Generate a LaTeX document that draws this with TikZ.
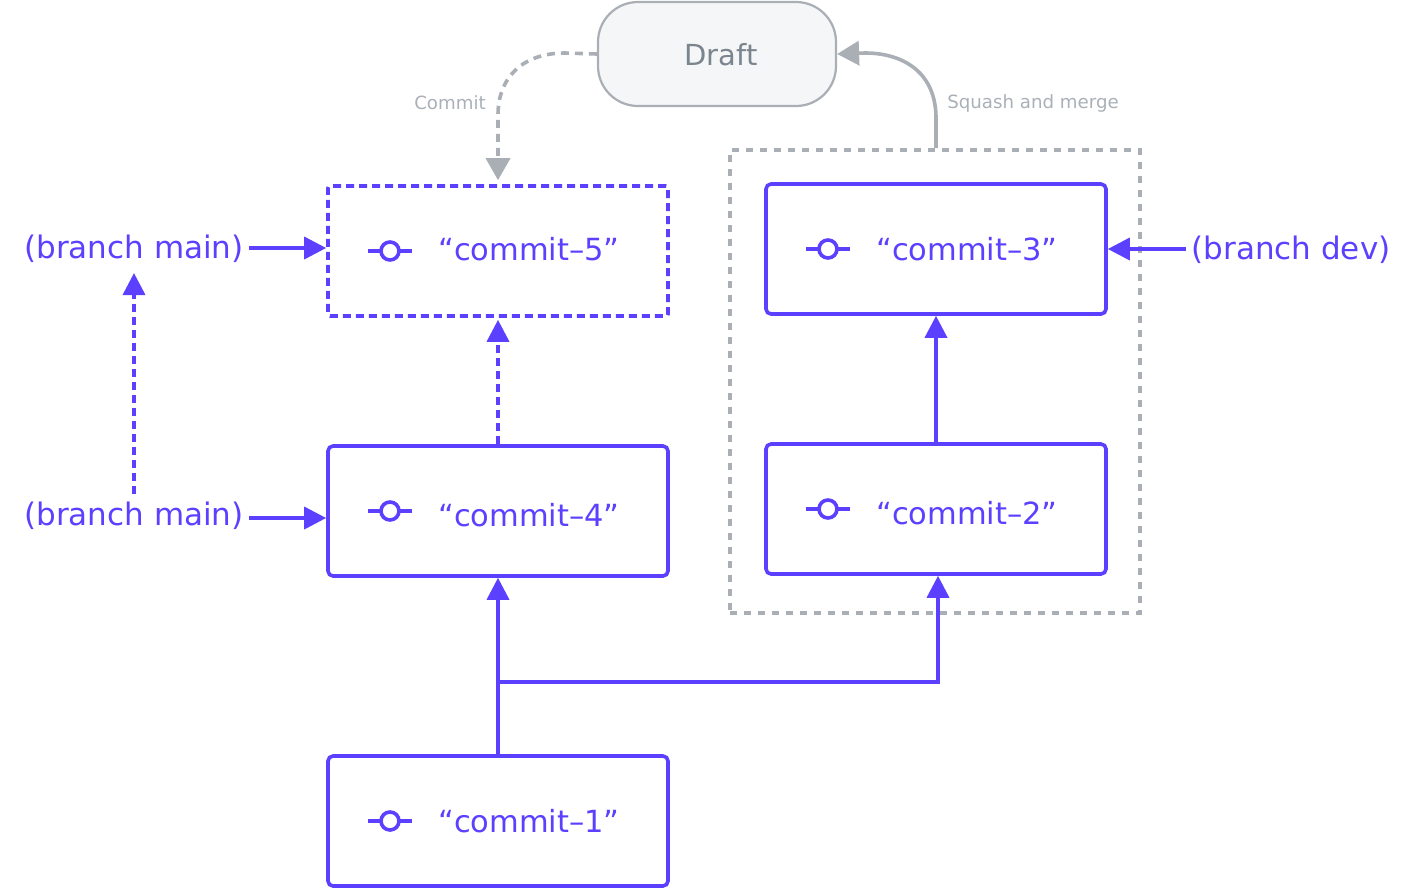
\documentclass[tikz,border=0pt]{standalone}
\usepackage{fontspec}
\setmainfont{DejaVu Sans}
\usetikzlibrary{arrows.meta,calc}
\definecolor{pur}{HTML}{5B40FF}
\definecolor{gln}{HTML}{A9AFB5}
\definecolor{gtx}{HTML}{7B858E}
\definecolor{gfill}{HTML}{F5F6F7}
\definecolor{glab}{HTML}{A9B0B7}
\tikzset{
  cbox/.style={draw=pur, line width=3.6pt, rounded corners=5pt, minimum width=340pt, minimum height=130pt, inner sep=0pt},
  dbox/.style={cbox, dash pattern=on 8pt off 5pt, rounded corners=2pt},
  ctext/.style={text=pur, font=\fontsize{30.5}{36}\selectfont, inner sep=0pt},
  blab/.style={text=pur, font=\fontsize{31}{36}\selectfont, inner sep=0pt},
  glabel/.style={text=glab, font=\fontsize{18.2}{22}\selectfont, inner sep=0pt},
  parr/.style={draw=pur, line width=3.6pt, -{Triangle[length=22pt,width=22pt]}},
  garr/.style={draw=gln, line width=3.6pt, -{Triangle[length=22pt,width=24pt]}},
  cicon/.style={draw=pur, line width=3.6pt},
}
\begin{document}
\begin{tikzpicture}[x=1pt,y=-1pt]
\useasboundingbox (0,0) rectangle (1426,887);
% group
\node[draw=gln, line width=3.6pt, dash pattern=on 7pt off 7pt, minimum width=410pt, minimum height=463pt, inner sep=0pt] (grp) at (935,381.5) {};
% draft
\node[draw=gln, fill=gfill, line width=2.2pt, rounded corners=40pt, minimum width=238pt, minimum height=104pt, inner sep=0pt] (d) at (717,54) {};
\node[text=gtx, font=\fontsize{29}{34}\selectfont, inner sep=0pt] (dt) at (721,55) {Draft};
% commit boxes
\node[dbox] (c5) at (498,251) {};
\node[cbox] (c4) at (498,511) {};
\node[cbox] (c1) at (498,821) {};
\node[cbox] (c3) at (936,249) {};
\node[cbox] (c2) at (936,509) {};
\foreach \n in {c5,c4,c1,c3,c2} { \coordinate (ic) at (\n); \draw[cicon] ($(ic)+(-130,0)$) -- ($(ic)+(-117,0)$) ($(ic)+(-99,0)$) -- ($(ic)+(-86,0)$); \draw[cicon] ($(ic)+(-108,0)$) circle (9pt); }
\node[ctext] (t5) at (529,249) {“commit–5”};
\node[ctext] (t4) at (529,515) {“commit–4”};
\node[ctext] (t1) at (529,821) {“commit–1”};
\node[ctext] (t3) at (967,249) {“commit–3”};
\node[ctext] (t2) at (967,513) {“commit–2”};
% branch labels
\node[blab] (bm1) at (134,249) {(branch main)};
\node[blab] (bm2) at (134,516) {(branch main)};
\node[blab] (bd) at (1291,250) {(branch dev)};
% arrows
\draw[parr] (bm1.east) ++(5,-1) coordinate (a1) -- (c5.west |- a1);
\draw[parr] (bm2.east) ++(5,2) coordinate (a2) -- (c4.west |- a2);
\draw[parr] (bd.west) ++(-5,-1) coordinate (a3) -- (c3.east |- a3);
\draw[parr, dash pattern=on 8pt off 5pt] ($(bm2.north)+(0,-8)$) -- ($(bm1.south)+(0,10)$);
\draw[parr, dash pattern=on 8pt off 5pt] (c4.north) -- ($(c5.south)+(0,2)$);
\draw[parr] (c2.north) -- (c3.south);
\draw[parr] (c1.north) -- (c4.south);
\coordinate (j) at (498,682);
\draw[parr] (j) -| ($(c2.south)+(2,0)$);
% grey arrows
\draw[garr, dash pattern=on 8pt off 6pt] (d.west) -- (565,53) .. controls (522,53) and (498,78) .. (498,115) -- ($(c5.north)+(0,-4)$);
\draw[garr] (grp.north -| c3) -- (936,118) .. controls (936,74) and (905,53) .. (865,53) -- (d.east);
\node[glabel] (lc) at (450,103) {Commit};
\node[glabel] (ls) at (1033,103) {Squash and merge};
\end{tikzpicture}
\end{document}
